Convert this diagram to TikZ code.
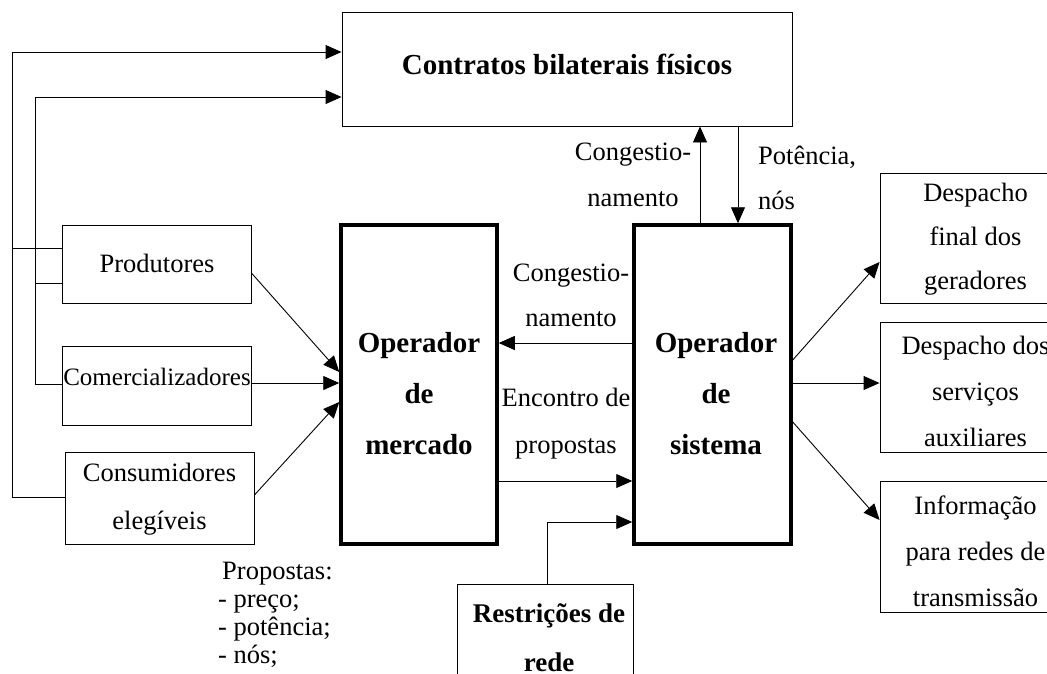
\documentclass[tikz,border=0pt]{standalone}
\usepackage{fontspec}
\setmainfont{Liberation Serif}
\usetikzlibrary{arrows.meta,calc}
\begin{document}
\begin{tikzpicture}[x=1pt,y=-1pt,
  box/.style={draw,line width=0.9pt,inner sep=0pt},
  thickbox/.style={draw,line width=3.5pt,inner sep=0pt},
  txt/.style={inner sep=0pt,align=center,font=\fontsize{26.5}{46}\selectfont},
  btxt/.style={inner sep=0pt,align=center,font=\fontsize{29}{51}\selectfont\bfseries},
  arr/.style={line width=0.9pt,-{Triangle[length=16pt,width=14pt]}},
  ln/.style={line width=0.9pt}]
\clip (0,0) rectangle (1047,673);

% boxes
\node[box,minimum width=450pt,minimum height=114pt] (contr) at (567,69) {};
\node[btxt] (contrT) at (567,64) {Contratos bilaterais físicos};

\node[box,minimum width=189pt,minimum height=78pt] (prod) at (156.5,264) {};
\node[txt] (prodT) at (157,263) {Produtores};
\node[box,minimum width=189pt,minimum height=79pt] (com) at (156.5,385.5) {};
\node[txt,font=\fontsize{25}{30}\selectfont] (comT) at (157,377) {Comercializadores};
\node[box,minimum width=189pt,minimum height=92pt] (cons) at (159.5,498) {};
\node[txt,font=\fontsize{26.5}{48}\selectfont] (consT) at (159.5,499) {Consumidores\\elegíveis};

\node[thickbox,minimum width=156pt,minimum height=319pt] (merc) at (419,384.5) {};
\node[btxt] (mercT) at (419,394) {Operador\\de\\mercado};
\node[thickbox,minimum width=157pt,minimum height=319pt] (sist) at (712.5,384.5) {};
\node[btxt] (sistT) at (716,394) {Operador\\de\\sistema};

\node[box,minimum width=176pt,minimum height=136pt] (restr) at (545,652) {};
\node[btxt,font=\fontsize{27}{49}\selectfont\bfseries] (restrT) at (549,638) {Restrições de\\rede};

\node[box,minimum width=191pt,minimum height=130pt] (d1) at (975.5,238) {};
\node[txt,font=\fontsize{26.5}{44}\selectfont] (d1T) at (975.5,239) {Despacho\\final dos\\geradores};
\node[box,minimum width=191pt,minimum height=130pt] (d2) at (975.5,387) {};
\node[txt] (d2T) at (975.5,391.5) {Despacho dos\\serviços\\auxiliares};
\node[box,minimum width=191pt,minimum height=131pt] (d3) at (975.5,546.5) {};
\node[txt] (d3T) at (975.5,551) {Informação\\para redes de\\transmissão};

% labels
\node[txt] (lc1) at (633,175) {Congestio-\\namento};
\node[txt,align=left,anchor=west,font=\fontsize{26.5}{45}\selectfont] (lp) at (758,177.5) {Potência,\\nós};
\node[txt,font=\fontsize{26.5}{45}\selectfont] (lc2) at (571,295.5) {Congestio-\\namento};
\node[txt,font=\fontsize{26.5}{47}\selectfont] (le) at (566,423.5) {Encontro de\\propostas};
\node[txt,align=left,anchor=north west,font=\fontsize{26.5}{28}\selectfont] (lprop) at (218,562) {\hspace*{4pt}Propostas:\\- preço;\\- potência;\\- nós;};

% connectors
\coordinate (j1) at (12,248);
\coordinate (j2) at (35,283);
\draw[arr] (cons.west |- 0,497) -| (12,52) -- (contr.west |- 0,52);
\draw[ln] (j1) -- (prod.west |- j1);
\draw[arr] (com.west |- 0,384) -| (35,97) -- (contr.west |- 0,97);
\draw[ln] (j2) -- (prod.west |- j2);

\draw[arr] (prod.east |- 0,273) -- (merc.west |- 0,372);
\draw[arr] (com.east |- 0,383) -- (merc.west |- 0,383);
\draw[arr] (cons.east |- 0,495) -- (merc.west |- 0,402);

\draw[arr] (sist.north -| 700,0) -- (contr.south -| 700,0);
\draw[arr] (contr.south -| 738,0) -- (sist.north -| 738,0);

\draw[arr] (sist.west |- 0,343) -- (merc.east |- 0,343);
\draw[arr] (merc.east |- 0,481) -- (sist.west |- 0,481);
\draw[arr] (restr.north -| 547,0) |- (sist.west |- 0,522);

\draw[arr] (sist.east |- 0,360) -- (d1.west |- 0,262);
\draw[arr] (sist.east |- 0,383) -- (d2.west |- 0,383);
\draw[arr] (sist.east |- 0,422) -- (d3.west |- 0,520);
\end{tikzpicture}
\end{document}
